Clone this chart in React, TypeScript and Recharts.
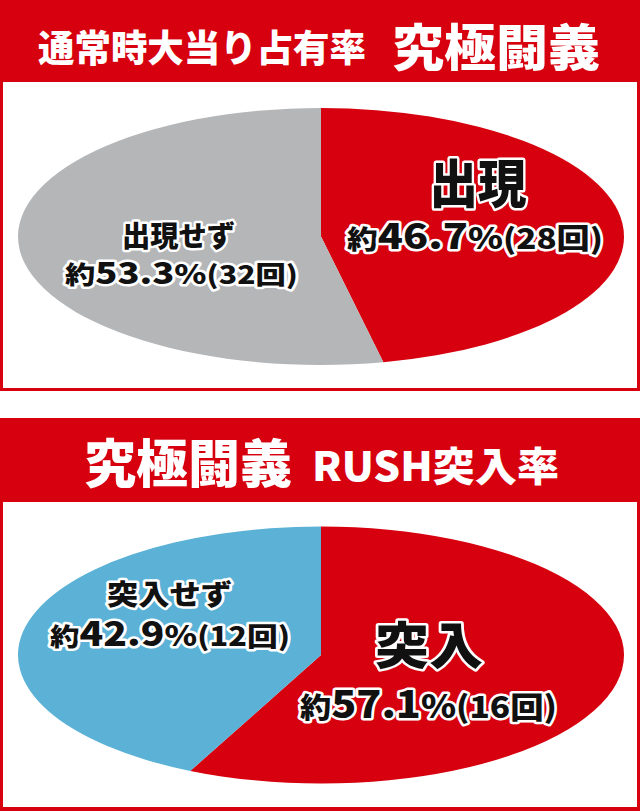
import React from 'react';
import { PieChart, Pie, Cell } from 'recharts';

const RED = '#D7000F';
const GRAY = '#B5B6B8';
const BLUE = '#5BB2D6';

const title1Main = '通常時大当り占有率';
const title1Sub = '究極闘義';
const title2Main = '究極闘義';
const title2Sub = 'RUSH突入率';

const occNames = ['出現', '出現せず'];
const occPercents = [46.7, 53.3];
const occCounts = [28, 32];

const rushNames = ['突入', '突入せず'];
const rushPercents = [57.1, 42.9];
const rushCounts = [16, 12];

const occColors = [RED, GRAY];
const rushColors = [RED, BLUE];

const occData = occNames.map((name, i) => ({ name, value: occPercents[i], count: occCounts[i] }));
const rushData = rushNames.map((name, i) => ({ name, value: rushPercents[i], count: rushCounts[i] }));

const ELLIPSE_RATIO = 128.5 / 303;
const FONT = '"Noto Sans CJK JP", "Noto Sans", sans-serif';

function EllipseSector(props: any) {
  const { cx, cy, outerRadius, startAngle, endAngle, fill } = props;
  const rx = outerRadius;
  const ry = outerRadius * ELLIPSE_RATIO;
  const rad = Math.PI / 180;
  const pt = (a: number) => [cx + rx * Math.cos(-a * rad), cy + ry * Math.sin(-a * rad)];
  const [x1, y1] = pt(startAngle);
  const [x2, y2] = pt(endAngle);
  const sweep = Math.abs(endAngle - startAngle);
  const large = sweep > 180 ? 1 : 0;
  const sweepFlag = startAngle > endAngle ? 1 : 0;
  const d = `M${cx},${cy} L${x1},${y1} A${rx},${ry} 0 ${large} ${sweepFlag} ${x2},${y2} Z`;
  return <path d={d} fill={fill} stroke="none" />;
}

const outline: React.CSSProperties = {
  fill: '#111',
  stroke: '#fff',
  strokeWidth: 5,
  strokeLinejoin: 'round',
  paintOrder: 'stroke',
  fontFamily: FONT,
  fontWeight: 900,
};

type LabelSpec = {
  x1: number; b1: number; s1: number; w1: number;
  x2: number; b2: number; w2: number;
  sYaku: number; sNum: number; sPct: number; sParen: number;
};

function SliceLabel({ name, pct, count, spec }: { name: string; pct: number; count: number; spec: LabelSpec }) {
  return (
    <g>
      <text x={spec.x1} y={spec.b1} textAnchor="middle" fontSize={spec.s1} textLength={spec.w1} lengthAdjust="spacingAndGlyphs" style={outline}>
        {name}
      </text>
      <text x={spec.x2} y={spec.b2} textAnchor="middle" textLength={spec.w2} lengthAdjust="spacingAndGlyphs" style={outline}>
        <tspan fontSize={spec.sYaku}>約</tspan>
        <tspan fontSize={spec.sNum}>{pct.toFixed(1)}</tspan>
        <tspan fontSize={spec.sPct}>%</tspan>
        <tspan fontSize={spec.sParen}>({count}回)</tspan>
      </text>
    </g>
  );
}

const occSpecs: LabelSpec[] = [
  { x1: 478, b1: 203, s1: 52, w1: 97, x2: 475, b2: 249, w2: 256, sYaku: 26, sNum: 35, sPct: 30, sParen: 28 },
  { x1: 178.5, b1: 247, s1: 29, w1: 113, x2: 181.5, b2: 284, w2: 233, sYaku: 25, sNum: 30, sPct: 27, sParen: 25 },
];
const rushSpecs: LabelSpec[] = [
  { x1: 429, b1: 664, s1: 50, w1: 108, x2: 428.5, b2: 718, w2: 257, sYaku: 28, sNum: 37, sPct: 32, sParen: 30 },
  { x1: 169.5, b1: 605, s1: 28, w1: 125, x2: 170, b2: 646, w2: 240, sYaku: 25, sNum: 33, sPct: 28, sParen: 26 },
];

const titleStyle: React.CSSProperties = { fill: '#fff', fontFamily: FONT, fontWeight: 900 };

export default function App() {
  return (
    <div style={{ position: 'absolute', left: 0, top: 0, width: 640, height: 811, background: '#fff', overflow: 'hidden' }}>
      <div style={{ position: 'absolute', left: 0, top: 0, width: 640, height: 82, background: RED }} />
      <div style={{ position: 'absolute', left: 0, top: 82, width: 640, height: 309, boxSizing: 'border-box', borderLeft: `3px solid ${RED}`, borderRight: `3px solid ${RED}`, borderBottom: `3px solid ${RED}`, background: '#fff' }} />
      <div style={{ position: 'absolute', left: 0, top: 418, width: 640, height: 84, background: RED }} />
      <div style={{ position: 'absolute', left: 0, top: 502, width: 640, height: 309, boxSizing: 'border-box', borderLeft: `3px solid ${RED}`, borderRight: `3px solid ${RED}`, borderBottom: `4px solid ${RED}`, background: '#fff' }} />

      <div style={{ position: 'absolute', left: 0, top: 0 }}>
        <PieChart width={640} height={811} margin={{ top: 0, right: 0, bottom: 0, left: 0 }}>
          <Pie
            data={occData}
            dataKey="value"
            nameKey="name"
            cx={321}
            cy={236.5}
            innerRadius={0}
            outerRadius={303}
            startAngle={90}
            endAngle={-270}
            stroke="none"
            isAnimationActive={false}
            shape={EllipseSector}
            activeShape={EllipseSector}
            inactiveShape={EllipseSector}
          >
            {occData.map((d, i) => (
              <Cell key={d.name} fill={occColors[i]} />
            ))}
          </Pie>
          <Pie
            data={rushData}
            dataKey="value"
            nameKey="name"
            cx={321}
            cy={655}
            innerRadius={0}
            outerRadius={303}
            startAngle={90}
            endAngle={-270}
            stroke="none"
            isAnimationActive={false}
            shape={EllipseSector}
            activeShape={EllipseSector}
            inactiveShape={EllipseSector}
          >
            {rushData.map((d, i) => (
              <Cell key={d.name} fill={rushColors[i]} />
            ))}
          </Pie>
        </PieChart>
      </div>

      <svg width={640} height={811} style={{ position: 'absolute', left: 0, top: 0, pointerEvents: 'none' }}>
        <text x={38} y={62} fontSize={37} textLength={328} lengthAdjust="spacingAndGlyphs" style={titleStyle}>{title1Main}</text>
        <text x={392} y={66} fontSize={50} textLength={208} lengthAdjust="spacingAndGlyphs" style={titleStyle}>{title1Sub}</text>
        <text x={84} y={483} fontSize={52} textLength={208} lengthAdjust="spacingAndGlyphs" style={titleStyle}>{title2Main}</text>
        <text x={312} y={481} fontSize={40} textLength={247} lengthAdjust="spacingAndGlyphs" style={titleStyle}>{title2Sub}</text>

        {occData.map((d, i) => (
          <SliceLabel key={d.name} name={d.name} pct={d.value} count={d.count} spec={occSpecs[i]} />
        ))}
        {rushData.map((d, i) => (
          <SliceLabel key={d.name} name={d.name} pct={d.value} count={d.count} spec={rushSpecs[i]} />
        ))}
      </svg>
    </div>
  );
}
